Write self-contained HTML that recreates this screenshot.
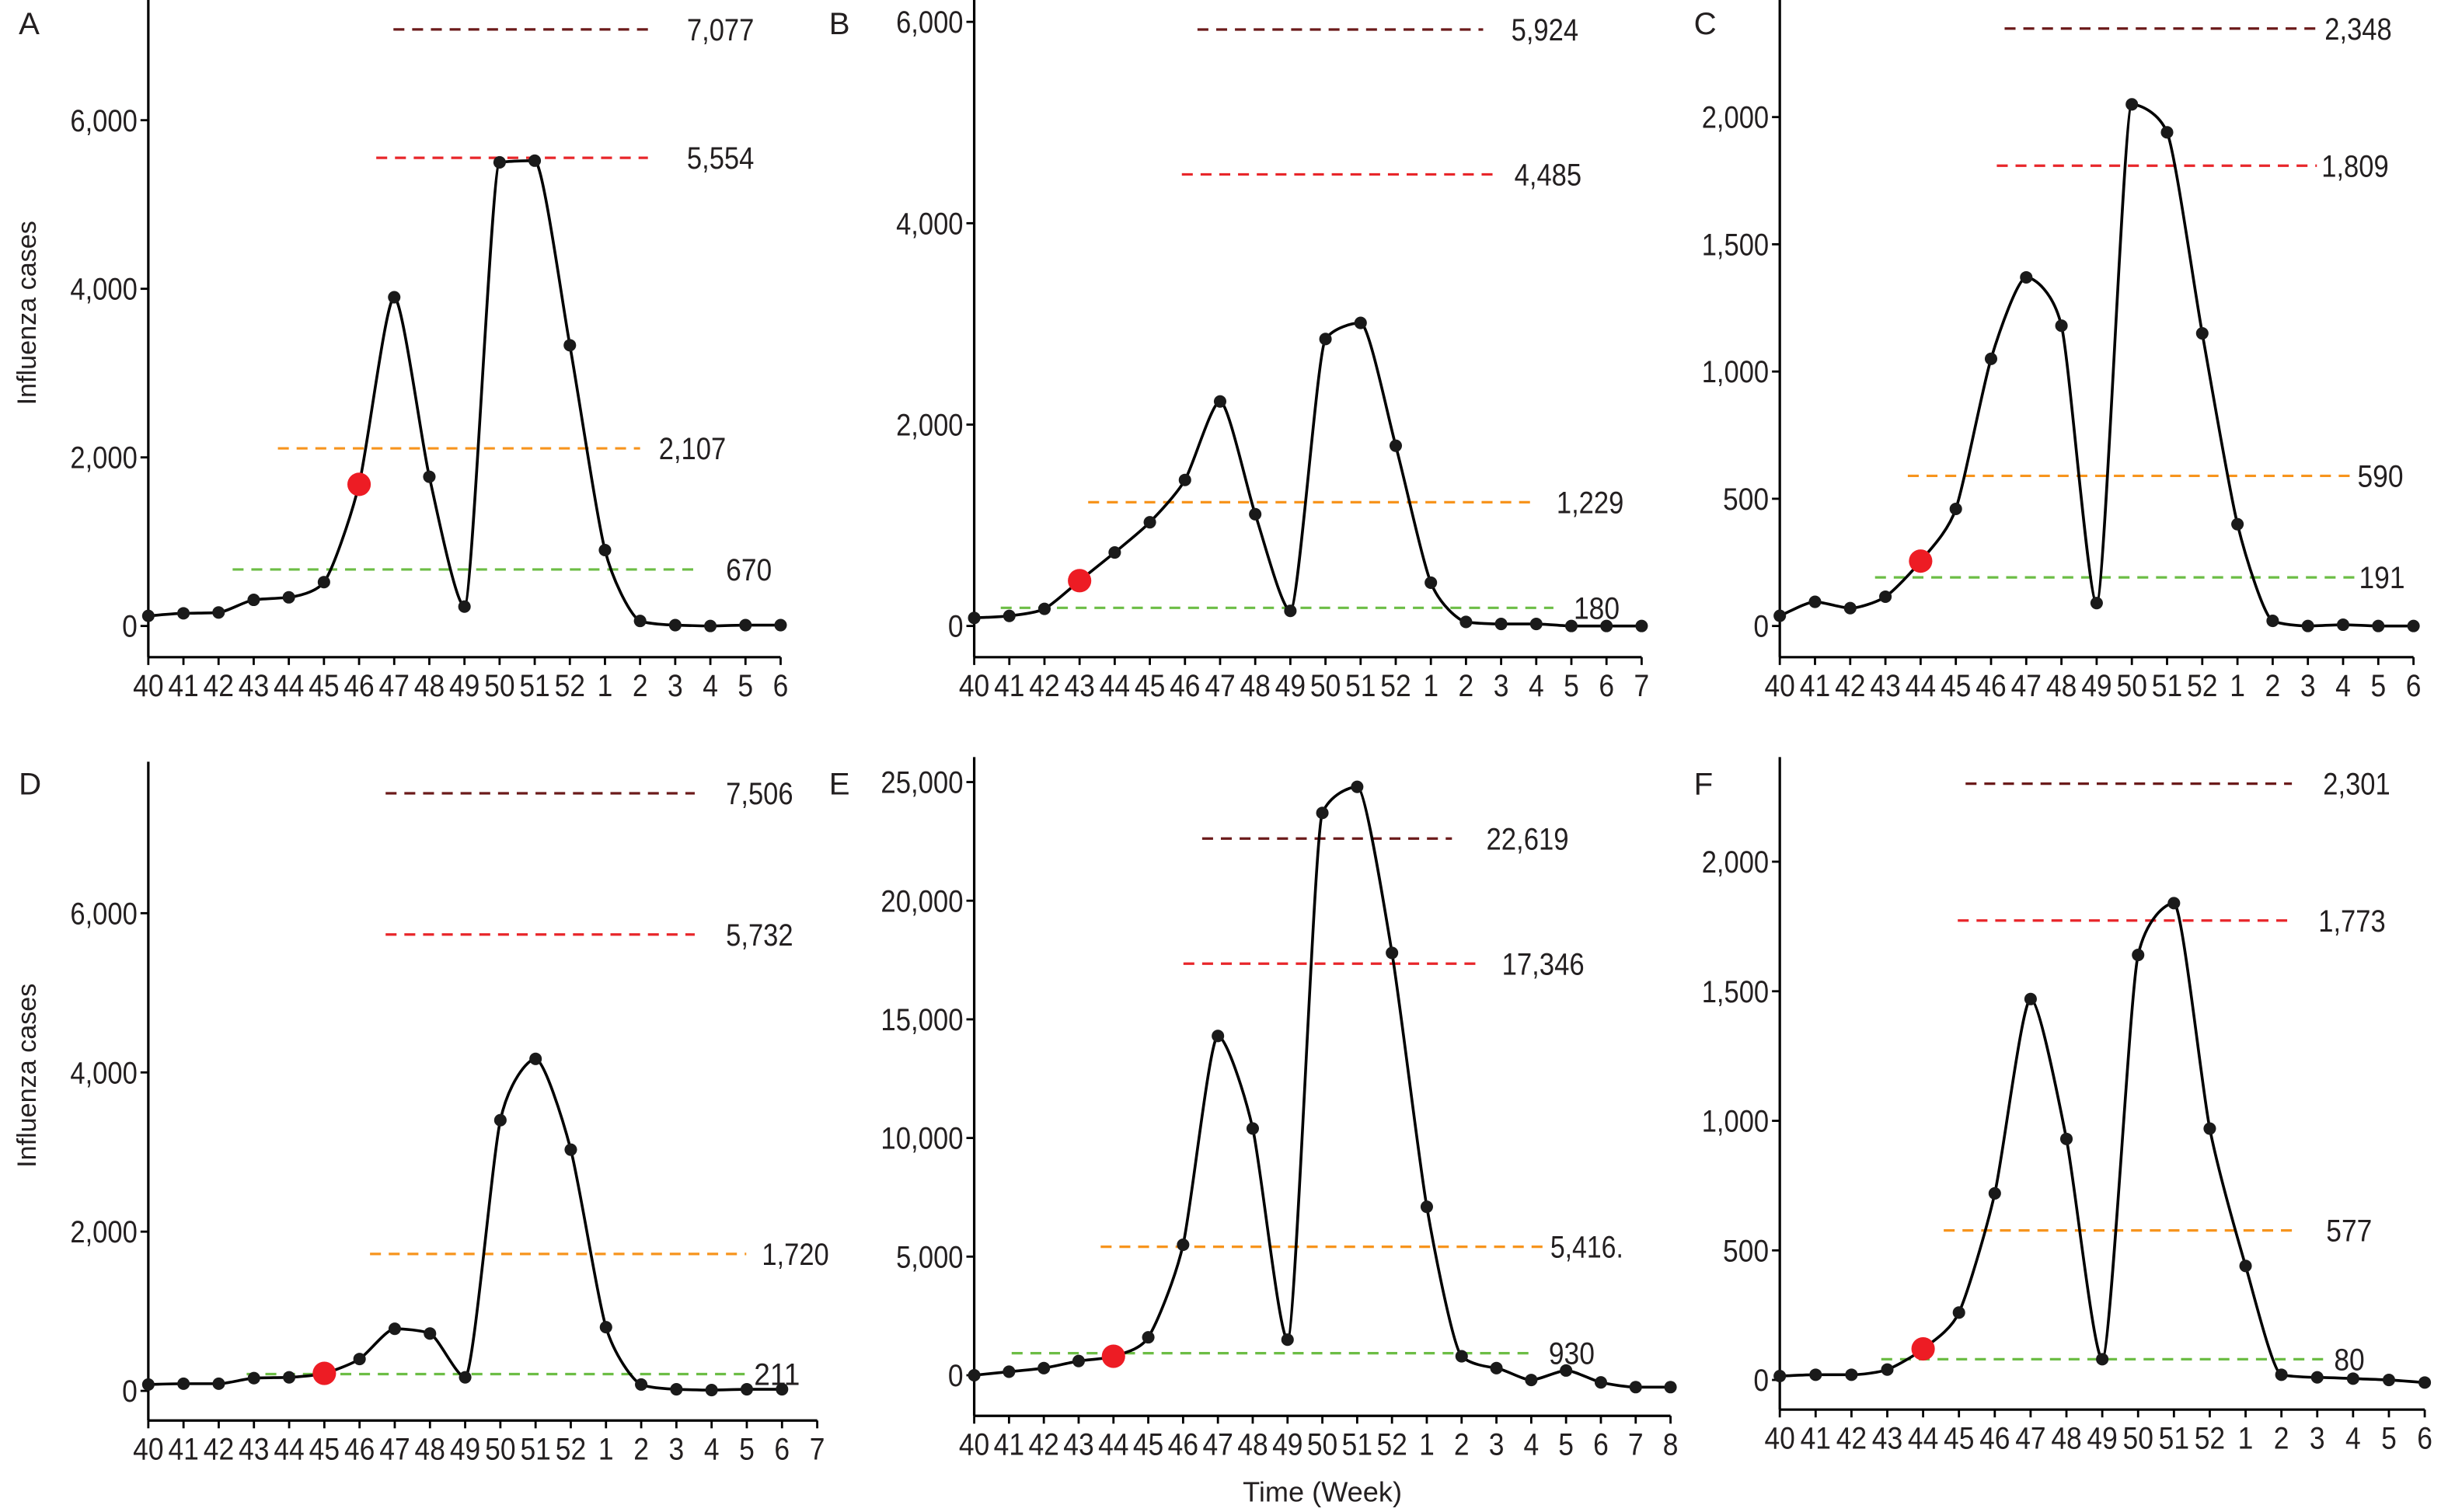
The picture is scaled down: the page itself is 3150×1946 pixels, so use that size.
<!DOCTYPE html>
<html><head><meta charset="utf-8"><style>
html,body{margin:0;padding:0;background:#fff;}
svg{display:block;}
text{font-family:"Liberation Sans Narrow","Liberation Sans",sans-serif;fill:#231f20;}
</style></head><body>
<svg id="s" width="3150" height="1946" viewBox="0 0 1568 968.6" preserveAspectRatio="none" xmlns="http://www.w3.org/2000/svg"></svg>
<script>
const S=document.getElementById('s');
let h='';
const wk=n=>{let a=[];for(let i=40;i<=52;i++)a.push(''+i);for(let i=1;i<=n;i++)a.push(''+i);return a;};
const P=[
{L:'A',lx:12,ly:22,ax:95,top:0,bot:421,x0:95,dx:22.5,nx:6,y0:401,py:108/2000,ticks:[0,2000,4000,6000],
 d:[120,150,160,310,340,520,1680,3900,1770,230,5500,5520,3330,900,60,10,0,10,10],red:6,
 ref:[[7077,'#6b1a1a',252,420,440],[5554,'#e8262a',241,415,440],[2107,'#f7941d',178,410,422],[670,'#6cbd45',149,447,465]],yt:true},
{L:'B',lx:531,ly:22,ax:624,top:0,bot:421,x0:624,dx:22.5,nx:7,y0:401,py:129/2000,ticks:[0,2000,4000,6000],
 d:[80,100,170,450,730,1030,1450,2230,1110,150,2850,3010,1790,430,40,20,20,0,0,0],red:3,
 ref:[[5924,'#6b1a1a',767,950,968],[4485,'#e8262a',757,958,970],[1229,'#f7941d',697,980,997],[180,'#6cbd45',641,995,1008]]},
{L:'C',lx:1085,ly:22,ax:1140,top:0,bot:421,x0:1140,dx:22.55,nx:6,y0:401,py:163/1000,ticks:[0,500,1000,1500,2000],
 d:[40,95,70,115,255,460,1050,1370,1180,90,2050,1940,1150,400,20,0,5,0,0],red:4,
 ref:[[2348,'#6b1a1a',1284,1486,1489],[1809,'#e8262a',1279,1484,1487],[590,'#f7941d',1222,1508,1510],[191,'#6cbd45',1201,1508,1511]]},
{L:'D',lx:12,ly:509,ax:95,top:488,bot:910,x0:95,dx:22.55,nx:7,y0:891,py:102/2000,ticks:[0,2000,4000,6000],
 d:[80,90,90,160,170,220,400,780,720,170,3400,4170,3030,800,80,20,10,20,20],red:5,
 ref:[[7506,'#6b1a1a',247,445,465],[5732,'#e8262a',247,445,465],[1720,'#f7941d',237,478,488],[211,'#6cbd45',158,478,483]],yt:true},
{L:'E',lx:531,ly:509,ax:624,top:485,bot:907,x0:624,dx:22.3,nx:8,y0:881,py:76/5000,ticks:[0,5000,10000,15000,20000,25000],
 d:[0,150,300,600,800,1600,5500,14300,10400,1500,23700,24800,17800,7100,800,300,-200,200,-300,-500,-500],red:4,
 ref:[[22619,'#6b1a1a',770,930,952],[17346,'#e8262a',758,948,962],[5416,'#f7941d',705,988,993,'5,416.'],[930,'#6cbd45',648,980,992]]},
{L:'F',lx:1085,ly:509,ax:1140,top:485,bot:903,x0:1140,dx:22.95,nx:6,y0:884,py:166/1000,ticks:[0,500,1000,1500,2000],
 d:[15,20,20,40,120,260,720,1470,930,80,1640,1840,970,440,20,10,5,0,-10],red:4,
 ref:[[2301,'#6b1a1a',1259,1468,1488],[1773,'#e8262a',1254,1465,1485],[577,'#f7941d',1245,1470,1490],[80,'#6cbd45',1205,1490,1495]]}
];
const fmt=v=>v.toLocaleString('en-US');
const tl=s=>{let w=0;for(const c of s)w+=(c===','||c==='.')?3.8:9.8;return w;};
const T=(x,y,s,anch)=>`<text x="${x}" y="${y}" font-size="20" text-anchor="${anch||'start'}" textLength="${tl(s)}" lengthAdjust="spacingAndGlyphs">${s}</text>`;
function mono(pts){
  const n=pts.length,dx=[],m=[],t=[];
  for(let i=0;i<n-1;i++){dx.push(pts[i+1][0]-pts[i][0]);m.push((pts[i+1][1]-pts[i][1])/dx[i]);}
  t[0]=m[0];t[n-1]=m[n-2];
  for(let i=1;i<n-1;i++){t[i]=(m[i-1]*m[i]<=0)?0:(m[i-1]+m[i])/2;}
  for(let i=0;i<n-1;i++){if(m[i]===0){t[i]=0;t[i+1]=0;continue;}const a=t[i]/m[i],b=t[i+1]/m[i],s=a*a+b*b;if(s>9){const k=3/Math.sqrt(s);t[i]=k*a*m[i];t[i+1]=k*b*m[i];}}
  let d=`M${pts[0][0]},${pts[0][1]}`;
  for(let i=0;i<n-1;i++){const h3=dx[i]/3*0.7;d+=` C${pts[i][0]+h3},${pts[i][1]+t[i]*h3} ${pts[i+1][0]-h3},${pts[i+1][1]-t[i+1]*h3} ${pts[i+1][0]},${pts[i+1][1]}`;}
  return d;
}
for(const p of P){
  const labs=wk(p.nx);const xe=p.x0+p.dx*(labs.length-1);
  h+=`<text x="${p.lx}" y="${p.ly}" font-size="20" font-family="Liberation Sans">${p.L}</text>`;
  h+=`<line x1="${p.ax}" y1="${p.top}" x2="${p.ax}" y2="${p.bot}" stroke="#000" stroke-width="1.6"/>`;
  h+=`<line x1="${p.ax}" y1="${p.bot}" x2="${xe}" y2="${p.bot}" stroke="#000" stroke-width="1.6"/>`;
  for(const t of p.ticks){const y=p.y0-t*p.py;
    h+=`<line x1="${p.ax-5}" y1="${y}" x2="${p.ax}" y2="${y}" stroke="#000" stroke-width="1.4"/>`;
    h+=T(p.ax-7,y+7,fmt(t),'end');}
  labs.forEach((l,i)=>{const x=p.x0+p.dx*i;
    h+=`<line x1="${x}" y1="${p.bot}" x2="${x}" y2="${p.bot+5}" stroke="#000" stroke-width="1.4"/>`;
    h+=T(x,p.bot+25,l,'middle');});
  for(const r of p.ref){const y=p.y0-r[0]*p.py;
    h+=`<line x1="${r[2]}" y1="${y}" x2="${r[3]}" y2="${y}" stroke="${r[1]}" stroke-width="1.6" stroke-dasharray="7,5"/>`;
    h+=T(r[4],y+7,r[5]||fmt(r[0]));}
  const pts=p.d.map((v,i)=>[p.x0+p.dx*i,p.y0-v*p.py]);
  h+=`<path d="${mono(pts)}" fill="none" stroke="#000" stroke-width="1.8"/>`;
  pts.forEach((q,i)=>{ if(i===p.red) h+=`<circle cx="${q[0]}" cy="${q[1]}" r="7.5" fill="#ed1c24"/>`;
    else h+=`<circle cx="${q[0]}" cy="${q[1]}" r="4" fill="#1a1a1a"/>`;});
  if(p.yt) h+=`<text transform="translate(23,${(p.top+p.bot)/2-10}) rotate(-90)" font-size="17" text-anchor="middle" font-family="Liberation Sans">Influenza cases</text>`;
}
h+=`<text x="847" y="962" font-size="18" text-anchor="middle">Time (Week)</text>`;
S.innerHTML=h;
</script>
</body></html>
